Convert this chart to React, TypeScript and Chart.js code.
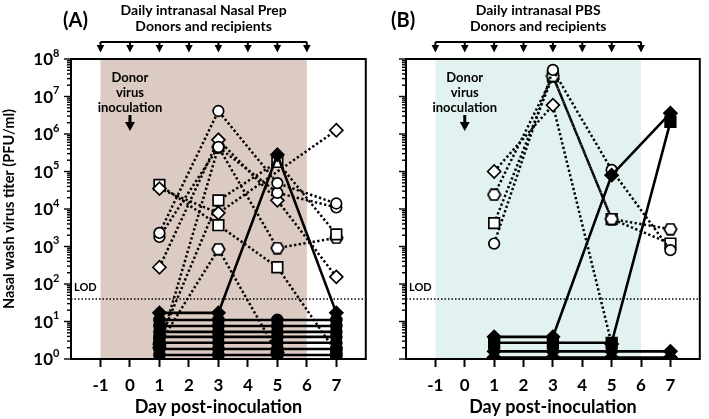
import { useEffect, useRef } from "react";
import Chart from "chart.js/auto";

const days = [1, 3, 5, 7];
const xTicks = [-1, 0, 1, 2, 3, 4, 5, 6, 7];
const treatmentDays = [-1, 0, 1, 2, 3, 4, 5, 6];
const yDecades = [0, 1, 2, 3, 4, 5, 6, 7, 8];
const LOD = 40;

// (A) Nasal Prep - donors (dotted, open symbols); null = not plotted
const prepDonorCircle1 = [2300, 4.1e6, 4.9e4, 1.4e4];
const prepDonorCircle2 = [1800, 4.5e5, 2.7e4, 1.1e4];
const prepDonorDiamond1 = [280, 7.0e5, 1.7e4, 155];
const prepDonorDiamond2 = [3.5e4, 7.8e3, null, 1.26e6];
const prepDonorSquare1 = [4.4e4, 3.7e3, 280, 1.5];
const prepDonorSquare2 = [3, 1.7e4, 1.8e5, 2100];
const prepDonorHex1 = [2.5, 850, 1.5, null];
const prepDonorHex2 = [2, 4.5e5, 910, 1700];

// (A) Nasal Prep - recipients (solid, filled symbols)
const prepRecipient1 = [17, 17, 2.8e5, 17];
const prepRecipient2 = [11, 11, 11, 11];
const prepRecipient3 = [7.6, 7.6, 7.6, 7.6];
const prepRecipient4 = [5.3, 5.3, 5.3, 5.3];
const prepRecipient5 = [3.9, 3.9, 3.9, 3.9];
const prepRecipient6 = [2.7, 2.7, 2.7, 2.7];
const prepRecipient7 = [1.85, 1.85, 1.85, 1.85];
const prepRecipient8 = [1.28, 1.28, 1.28, 1.28];

// (B) PBS - donors
const pbsDonorCircle = [1200, 5.1e7, 1.1e5, 800];
const pbsDonorHex = [2.4e4, 3.5e7, 5.4e3, 2900];
const pbsDonorSquare = [4200, 3.5e7, 5.4e3, 1200];
const pbsDonorDiamond = [1.0e5, 5.9e6, 2.5, null];

// (B) PBS - recipients
const pbsRecipient1 = [3.9, 3.9, 8e4, 3.6e6];
const pbsRecipient2 = [2.7, 2.7, 2.7, 2.1e6];
const pbsRecipient3 = [1.6, 1.6, 1.6, 1.6];
const pbsRecipient4 = [1.1, 1.1, 1.1, 1.1];

type Shape = "circle" | "rect" | "rectRot" | "hex";
type Series = { values: (number | null)[]; shape: Shape; recipient?: boolean };

const prepSeries: Series[] = [
  { values: prepRecipient1, shape: "rectRot", recipient: true },
  { values: prepRecipient2, shape: "circle", recipient: true },
  { values: prepRecipient3, shape: "circle", recipient: true },
  { values: prepRecipient4, shape: "circle", recipient: true },
  { values: prepRecipient5, shape: "circle", recipient: true },
  { values: prepRecipient6, shape: "circle", recipient: true },
  { values: prepRecipient7, shape: "circle", recipient: true },
  { values: prepRecipient8, shape: "circle", recipient: true },
  { values: prepDonorCircle1, shape: "circle" },
  { values: prepDonorCircle2, shape: "circle" },
  { values: prepDonorDiamond1, shape: "rectRot" },
  { values: prepDonorDiamond2, shape: "rectRot" },
  { values: prepDonorSquare1, shape: "rect" },
  { values: prepDonorSquare2, shape: "rect" },
  { values: prepDonorHex1, shape: "hex" },
  { values: prepDonorHex2, shape: "hex" },
];

const pbsSeries: Series[] = [
  { values: pbsRecipient1, shape: "rectRot", recipient: true },
  { values: pbsRecipient2, shape: "rect", recipient: true },
  { values: pbsRecipient3, shape: "rectRot", recipient: true },
  { values: pbsRecipient4, shape: "rectRot", recipient: true },
  { values: pbsDonorCircle, shape: "circle" },
  { values: pbsDonorHex, shape: "hex" },
  { values: pbsDonorSquare, shape: "rect" },
  { values: pbsDonorDiamond, shape: "rectRot" },
];

const FONT = "Lato, 'Open Sans', sans-serif";

let hexImg: HTMLCanvasElement | null = null;
function hexagon() {
  if (hexImg) return hexImg;
  const c = document.createElement("canvas");
  c.width = 15;
  c.height = 13;
  const g = c.getContext("2d")!;
  g.beginPath();
  g.moveTo(1.2, 6.5);
  g.lineTo(4.3, 1.2);
  g.lineTo(10.7, 1.2);
  g.lineTo(13.8, 6.5);
  g.lineTo(10.7, 11.8);
  g.lineTo(4.3, 11.8);
  g.closePath();
  g.fillStyle = "#fff";
  g.fill();
  g.lineWidth = 1.7;
  g.strokeStyle = "#000";
  g.stroke();
  hexImg = c;
  return c;
}

function toDataset(s: Series) {
  const data = days
    .map((d, i) => ({ x: d, y: s.values[i] }))
    .filter((p) => p.y !== null) as { x: number; y: number }[];
  const radius = s.shape === "rect" ? 7.5 : s.shape === "rectRot" ? 6.5 : 5.3;
  return {
    data,
    showLine: true,
    borderColor: "#000",
    borderWidth: s.recipient ? 2.6 : 2.5,
    borderDash: s.recipient ? [] : [2.3, 2.4],
    pointStyle: s.shape === "hex" ? hexagon() : s.shape,
    pointRadius: s.recipient ? (s.shape === "circle" ? 5.5 : radius) : radius,
    pointBackgroundColor: s.recipient ? "#000" : "#fff",
    pointBorderColor: "#000",
    pointBorderWidth: 1.7,
  };
}

type PanelCfg = {
  label: string;
  header: string[];
  shade: string;
  yLabels: boolean;
  series: Series[];
  leftWidth: number;
  padRight: number;
  labelX: number;
};

function decorPlugin(cfg: PanelCfg) {
  return {
    id: "decor",
    beforeDatasetsDraw(chart: any) {
      const { ctx, chartArea: a, scales } = chart;
      const x = scales.x;
      const y = scales.y;
      ctx.save();
      const x0 = x.getPixelForValue(-1);
      const x1 = x.getPixelForValue(6);
      ctx.fillStyle = cfg.shade;
      ctx.fillRect(x0, a.top, x1 - x0, a.bottom - a.top);

      const yl = y.getPixelForValue(LOD);
      ctx.strokeStyle = "#000";
      ctx.lineWidth = 1.5;
      ctx.setLineDash([1.5, 2]);
      ctx.beginPath();
      ctx.moveTo(a.left, yl);
      ctx.lineTo(a.right, yl);
      ctx.stroke();
      ctx.setLineDash([]);
      ctx.fillStyle = "#000";
      ctx.font = `bold 11px ${FONT}`;
      ctx.textAlign = "left";
      ctx.textBaseline = "middle";
      ctx.fillText("LOD", a.left + 3, yl - 11);

      // donor inoculation note
      const xd = x.getPixelForValue(0);
      ctx.font = `bold 13px ${FONT}`;
      ctx.textAlign = "center";
      ["Donor", "virus", "inoculation"].forEach((t, i) => ctx.fillText(t, xd, 78 + i * 15));
      ctx.lineWidth = 3;
      ctx.beginPath();
      ctx.moveTo(xd, 115);
      ctx.lineTo(xd, 124);
      ctx.stroke();
      ctx.beginPath();
      ctx.moveTo(xd - 5, 122);
      ctx.lineTo(xd + 5, 122);
      ctx.lineTo(xd, 131);
      ctx.closePath();
      ctx.fill();
      ctx.restore();
    },
    afterDraw(chart: any) {
      const { ctx, chartArea: a, scales } = chart;
      const x = scales.x;
      const y = scales.y;
      ctx.save();
      ctx.strokeStyle = "#000";
      ctx.fillStyle = "#000";
      ctx.lineWidth = 2;
      ctx.strokeRect(a.left, a.top, a.right - a.left, a.bottom - a.top);

      // log ticks
      ctx.lineWidth = 1.4;
      for (let n = 0; n < 8; n++) {
        for (let k = 1; k <= 9; k++) {
          const yy = y.getPixelForValue(k * 10 ** n);
          ctx.beginPath();
          ctx.moveTo(a.left, yy);
          ctx.lineTo(a.left - (k === 1 ? 7 : 4), yy);
          ctx.stroke();
        }
      }
      const yTop = y.getPixelForValue(1e8);
      ctx.beginPath();
      ctx.moveTo(a.left, yTop);
      ctx.lineTo(a.left - 7, yTop);
      ctx.stroke();

      if (cfg.yLabels) {
        yDecades.forEach((n) => {
          const yy = y.getPixelForValue(10 ** n);
          ctx.font = `bold 17px ${FONT}`;
          ctx.textAlign = "right";
          ctx.textBaseline = "middle";
          ctx.fillText("10", a.left - 18, yy + 1);
          ctx.font = `bold 11px ${FONT}`;
          ctx.textAlign = "left";
          ctx.fillText(String(n), a.left - 18, yy - 6);
        });
      }

      // treatment arrows
      const xa = x.getPixelForValue(-1);
      const xb = x.getPixelForValue(6);
      ctx.lineWidth = 2;
      ctx.beginPath();
      ctx.moveTo(xa, 42);
      ctx.lineTo(xb, 42);
      ctx.stroke();
      treatmentDays.forEach((d) => {
        const px = x.getPixelForValue(d);
        ctx.beginPath();
        ctx.moveTo(px, 42);
        ctx.lineTo(px, 47);
        ctx.stroke();
        ctx.beginPath();
        ctx.moveTo(px - 3.8, 45);
        ctx.lineTo(px + 3.8, 45);
        ctx.lineTo(px, 52.5);
        ctx.closePath();
        ctx.fill();
      });

      // header
      const xc = (xa + xb) / 2;
      ctx.font = `bold 14px ${FONT}`;
      ctx.textAlign = "center";
      ctx.textBaseline = "middle";
      cfg.header.forEach((t, i) => ctx.fillText(t, xc, 10 + i * 16));

      ctx.font = `bold 20px ${FONT}`;
      ctx.textAlign = "left";
      ctx.fillText(cfg.label, cfg.labelX, 21);
      ctx.restore();
    },
  };
}

function Panel({ cfg, left, width }: { cfg: PanelCfg; left: number; width: number }) {
  const canvasRef = useRef<HTMLCanvasElement>(null);

  useEffect(() => {
    if (!canvasRef.current) return;
    const chart = new Chart(canvasRef.current, {
      type: "scatter",
      data: { datasets: cfg.series.map(toDataset) as any },
      options: {
        responsive: false,
        animation: false,
        layout: { padding: { top: 59, right: cfg.padRight, bottom: 0, left: 0 } },
        plugins: { legend: { display: false }, tooltip: { enabled: false } },
        scales: {
          x: {
            type: "linear",
            min: -2,
            max: 8,
            afterFit: (s: any) => {
              s.height = 60;
            },
            afterBuildTicks: (s: any) => {
              s.ticks = xTicks.map((v) => ({ value: v }));
            },
            grid: {
              drawOnChartArea: false,
              drawTicks: true,
              tickLength: 8,
              tickWidth: 2,
              tickColor: "#000",
            },
            border: { display: false },
            ticks: {
              color: "#000",
              font: { family: FONT, size: 17, weight: "bold" },
              padding: 8,
              autoSkip: false,
              maxRotation: 0,
              callback: (v: any) => String(v),
            },
            title: {
              display: true,
              text: "Day post-inoculation",
              color: "#000",
              font: { family: FONT, size: 18, weight: "bold" },
              padding: { top: 0, bottom: 1 },
            },
          },
          y: {
            type: "logarithmic",
            min: 1,
            max: 1e8,
            afterFit: (s: any) => {
              s.width = cfg.leftWidth;
            },
            grid: { display: false },
            border: { display: false },
            ticks: { display: false },
            title: {
              display: cfg.yLabels,
              text: "Nasal wash virus titer (PFU/ml)",
              color: "#000",
              font: { family: FONT, size: 14.5, weight: "bold" },
              padding: { top: 1, bottom: 0 },
            },
          },
        },
      },
      plugins: [decorPlugin(cfg)],
    });
    return () => chart.destroy();
  }, [cfg]);

  return (
    <canvas
      ref={canvasRef}
      width={width}
      height={419}
      style={{ position: "absolute", left, top: 0, width, height: 419 }}
    />
  );
}

const panelA: PanelCfg = {
  label: "(A)",
  header: ["Daily intranasal Nasal Prep", "Donors and recipients"],
  shade: "#dccbc2",
  yLabels: true,
  series: prepSeries,
  leftWidth: 71,
  padRight: 4,
  labelX: 63,
};

const panelB: PanelCfg = {
  label: "(B)",
  header: ["Daily intranasal PBS", "Donors and recipients"],
  shade: "#e2f2f1",
  yLabels: false,
  series: pbsSeries,
  leftWidth: 31,
  padRight: 3,
  labelX: 16,
};

export default function App() {
  return (
    <div style={{ position: "absolute", left: 0, top: 0, width: 709, height: 419, background: "#fff" }}>
      <Panel cfg={panelA} left={0} width={375} />
      <Panel cfg={panelB} left={375} width={334} />
    </div>
  );
}
